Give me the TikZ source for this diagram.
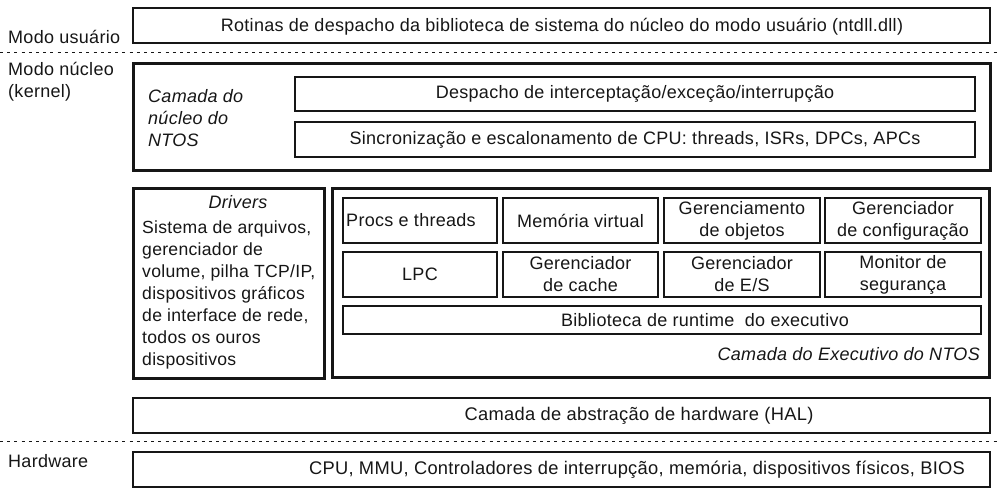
\documentclass[tikz,border=0pt]{standalone}
\usepackage{fontspec}
\setmainfont{Liberation Sans}[LetterSpace=1.6]
\definecolor{ink}{HTML}{161616}
\begin{document}
\begin{tikzpicture}[x=1pt,y=-1pt,
  every node/.style={font=\fontsize{18}{22}\selectfont, text=ink, inner sep=0pt},
  thinbox/.style={draw=ink, line width=1.4pt, align=center},
  thickbox/.style={draw=ink, line width=3pt},
  sepline/.style={draw=ink, line width=1pt, dash pattern=on 3pt off 4.2pt},
  lbl/.style={anchor=base west},
  itl/.style={font=\fontsize{18}{22}\selectfont\itshape},
  big/.style={font=\fontsize{18.3}{22}\selectfont},
  drvtxt/.style={anchor=base west, font=\fontsize{17.6}{22}\selectfont},
]
\useasboundingbox (0,0) rectangle (998,488);

% user mode
\node[thinbox, minimum width=857, minimum height=35] (usr) at (561.5,25.5) {};
\node (usrt) at (562,26.5)
  {Rotinas de despacho da biblioteca de sistema do núcleo do modo usuário (ntdll.dll)};
\node[lbl] (musr) at (8,43) {Modo usuário};

\coordinate (s1a) at (0,52);
\coordinate (s1b) at (998,52);
\draw[sepline] (s1a) -- (s1b);

\node[lbl] (mnuc) at (8,75) {Modo núcleo};
\node[lbl] (mker) at (8,97) {(kernel)};

% NTOS kernel layer
\node[thickbox, minimum width=857, minimum height=107] (ntos) at (561.5,116.5) {};
\node[lbl, itl] (k1) at (148,102) {Camada do};
\node[lbl, itl] (k2) at (148,124) {núcleo do};
\node[lbl, itl] (k3) at (148,146) {NTOS};
\node[thinbox, minimum width=680, minimum height=34] (desp) at (635,94)
  {Despacho de interceptação/exceção/interrupção};
\node[thinbox, minimum width=680, minimum height=35] (sinc) at (635,139.5)
  {Sincronização e escalonamento de CPU: threads, ISRs, DPCs, APCs};

% drivers
\node[thickbox, minimum width=191, minimum height=190] (drv) at (228.5,283) {};
\node[anchor=base, itl] (dt) at (238,208) {Drivers};
\node[drvtxt] (d1) at (142,233) {Sistema de arquivos,};
\node[drvtxt] (d2) at (142,255) {gerenciador de};
\node[drvtxt] (d3) at (142,277) {volume, pilha TCP/IP,};
\node[drvtxt] (d4) at (142,299) {dispositivos gráficos};
\node[drvtxt] (d5) at (142,321) {de interface de rede,};
\node[drvtxt] (d6) at (142,343) {todos os ouros};
\node[drvtxt] (d7) at (142,365) {dispositivos};

% executive
\node[thickbox, minimum width=657, minimum height=189.5] (exe) at (660.5,282.75) {};
\node[thinbox, minimum width=154, minimum height=45] (procs) at (420,220.5) {};
\node (procst) at (411,220.5) {Procs e threads};
\node[thinbox, minimum width=155, minimum height=45] (mem) at (580.5,220.5) {Memória virtual};
\node[thinbox, minimum width=156, minimum height=45] (obj) at (742,220.5) {Gerenciamento\\de objetos};
\node[thinbox, minimum width=156, minimum height=45] (cfg) at (903,220.5) {Gerenciador\\de configuração};
\node[thinbox, minimum width=154, minimum height=45] (lpc) at (420,274.5) {LPC};
\node[thinbox, minimum width=155, minimum height=45] (cache) at (580.5,274.5) {Gerenciador\\de cache};
\node[thinbox, minimum width=156, minimum height=45] (es) at (742,274.5) {Gerenciador\\de E/S};
\node[thinbox, minimum width=156, minimum height=45] (sec) at (903,274.5) {Monitor de\\segurança};
\node[thinbox, minimum width=638, minimum height=28] (rt) at (662,320) {};
\node (rtt) at (705,320) {Biblioteca de runtime\ \ do executivo};
\node[anchor=base east, itl] (et) at (980,360) {Camada do Executivo do NTOS};

% HAL
\node[thinbox, minimum width=857, minimum height=35] (hal) at (561.5,415.5) {};
\node[big] (halt) at (639,415.5) {Camada de abstração de hardware (HAL)};

\coordinate (s2a) at (0,441);
\coordinate (s2b) at (998,441);
\draw[sepline] (s2a) -- (s2b);

\node[lbl] (mhw) at (8,467) {Hardware};
\node[thinbox, minimum width=857, minimum height=35] (hw) at (561.5,469.5) {};
\node[big] (hwt) at (637,469.5)
  {CPU, MMU, Controladores de interrupção, memória, dispositivos físicos, BIOS};
\end{tikzpicture}
\end{document}
